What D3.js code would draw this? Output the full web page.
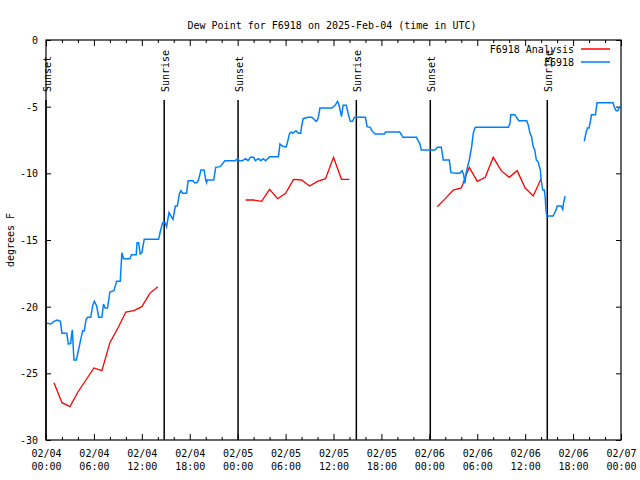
<!DOCTYPE html>
<html>
<head>
<meta charset="utf-8">
<script src="https://cdn.jsdelivr.net/npm/d3@7"></script>
<style>
  html, body { margin: 0; padding: 0; background: #fff; }
  svg { display: block; }
  text { font-family: "DejaVu Sans Mono", "Liberation Mono", monospace; font-size: 10px; fill: #000; }
</style>
</head>
<body>
<svg id="chart" width="640" height="480"></svg>
<script>
// ---------------- DATA ----------------
const titleText = "Dew Point for F6918 on 2025-Feb-04 (time in UTC)";
const yLabelText = "degrees F";
const startUTC = Date.UTC(2025, 1, 4, 0, 0);   // 2025-02-04 00:00 UTC
const endUTC = Date.UTC(2025, 1, 7, 0, 0);     // 2025-02-07 00:00 UTC

const yTicks = [0, -5, -10, -15, -20, -25, -30];
const xTickHours = [0, 6, 12, 18, 24, 30, 36, 42, 48, 54, 60, 66, 72];
const xTickLabels = [
  ["02/04", "00:00"], ["02/04", "06:00"], ["02/04", "12:00"], ["02/04", "18:00"],
  ["02/05", "00:00"], ["02/05", "06:00"], ["02/05", "12:00"], ["02/05", "18:00"],
  ["02/06", "00:00"], ["02/06", "06:00"], ["02/06", "12:00"], ["02/06", "18:00"],
  ["02/07", "00:00"]
];
const xMinorStepHours = 2;

// sun events (hours after 2025-02-04 00:00 UTC)
const sunsetHours = [0.0, 24.05, 48.12];
const sunriseHours = [14.8, 38.86, 62.77];

// F6918 Analysis (red) - hours after start, value degF; null = gap
const analysisHours = [1,2,3,4,5,6,7,8,9,10,11,12,13,14,
  null,
  25,26,27,28,29,30,31,32,33,34,35,36,37,38,
  null,
  49,50,51,52,53,54,55,56,57,58,59,60,61,62];
const analysisValues = [-25.7,-27.2,-27.5,-26.4,-25.5,-24.6,-24.8,-22.7,-21.6,-20.4,-20.3,-20.0,-19.0,-18.5,
  null,
  -12.0,-12.0,-12.1,-11.2,-11.9,-11.5,-10.45,-10.5,-10.95,-10.6,-10.4,-8.8,-10.45,-10.45,
  null,
  -12.5,-11.9,-11.25,-11.1,-9.55,-10.6,-10.3,-8.8,-9.8,-10.3,-9.8,-11.1,-11.7,-10.4];

// F6918 station observations (blue)
const stationHours = [
  0.1,0.6,1.0,1.4,1.8,2.0,2.6,2.8,3.1,3.2,3.3,3.5,3.8,4.3,4.6,4.8,5.0,5.2,5.6,5.85,
  6.05,6.35,6.6,7.0,7.2,7.4,7.7,8.0,8.5,8.85,9.3,9.5,9.7,10.5,10.7,11.3,11.4,11.6,11.8,12.0,
  12.3,14.1,14.3,14.6,14.9,15.1,15.4,15.9,16.2,16.45,16.7,16.9,17.1,17.6,17.8,18.4,18.6,18.9,19.1,19.4,
  19.8,20.0,20.1,20.2,21.0,21.25,21.8,22.4,23.7,24.0,24.2,24.6,25.0,25.3,25.6,26.0,26.2,26.6,26.9,27.2,
  27.5,28.0,29.1,29.3,29.6,29.9,30.1,30.5,30.7,30.9,31.3,31.6,31.9,32.0,32.2,32.8,33.3,33.5,33.8,33.9,
  34.1,34.3,35.8,36.2,36.5,36.7,37.0,37.2,37.6,37.9,38.1,38.4,38.6,40.0,40.2,40.6,40.8,41.2,42.4,42.5,
  44.3,44.7,46.4,46.6,46.8,47.0,48.7,49.0,49.5,49.75,50.5,50.7,51.4,51.8,52.1,52.3,52.45,52.6,52.75,53.0,
  53.3,53.5,53.7,53.8,57.9,58.1,58.2,58.7,59.2,60.2,60.4,60.6,60.8,61.0,61.2,61.4,61.6,61.9,62.0,62.2,
  62.4,62.5,62.6,62.7,63.5,63.9,64.0,64.5,64.7,64.8,65.0,
  null,
  67.4,67.6,67.8,68.0,68.2,68.3,68.8,69.0,71.0,71.2,71.4,71.6,71.8,72.0
];
const stationValues = [
  -21.25,-21.3,-21.1,-21.0,-21.1,-22.0,-22.0,-22.8,-22.75,-22.1,-21.75,-24.0,-24.0,-22.6,-21.8,-21.8,-21.0,-20.8,-20.8,-19.9,
  -19.6,-19.95,-20.8,-20.8,-19.8,-20.1,-20.1,-18.9,-18.8,-18.1,-18.1,-15.95,-16.4,-16.4,-16.1,-16.1,-15.2,-15.2,-16.05,-15.95,
  -14.95,-14.95,-14.4,-13.7,-13.7,-14.0,-12.95,-13.45,-12.45,-12.45,-11.55,-11.3,-11.5,-11.5,-10.55,-10.55,-10.7,-10.7,-10.5,-9.75,
  -9.75,-10.5,-10.7,-10.5,-10.5,-9.55,-9.5,-9.05,-9.05,-8.9,-9.05,-9.05,-8.9,-9.05,-8.8,-8.8,-9.05,-8.9,-9.05,-8.9,
  -9.05,-8.75,-8.75,-7.8,-7.95,-8.0,-8.0,-7.0,-6.9,-7.0,-6.8,-7.0,-7.0,-6.5,-5.9,-5.8,-5.8,-5.9,-6.1,-6.1,
  -5.8,-5.1,-5.1,-4.9,-4.6,-4.9,-5.75,-4.9,-4.9,-5.65,-6.1,-6.1,-5.8,-5.8,-6.5,-6.55,-6.8,-7.05,-7.05,-6.9,
  -6.9,-7.3,-7.3,-7.55,-7.75,-8.25,-8.25,-8.05,-8.05,-9.0,-9.0,-9.95,-10.0,-10.0,-9.8,-10.1,-10.75,-10.0,-9.6,-9.0,
  -8.0,-7.0,-6.6,-6.55,-6.55,-6.25,-5.6,-5.6,-6.05,-6.05,-6.4,-7.0,-7.25,-8.0,-8.25,-9.0,-9.1,-9.75,-10.5,-11.25,
  -11.25,-11.75,-12.7,-13.2,-13.2,-12.7,-12.45,-12.45,-12.7,-12.25,-11.7,
  null,
  -7.6,-7.0,-6.6,-6.6,-6.0,-5.6,-5.6,-4.7,-4.7,-5.1,-5.3,-5.3,-5.05,-5.0
];

const seriesNames = ["F6918 Analysis", "F6918"];
const seriesColors = ["#ff0000", "#0080ff"];

// ---------------- CHART ----------------
const HOUR = 3600 * 1000;
const toDate = h => new Date(startUTC + h * HOUR);

const svg = d3.select("#chart");
const margin = {left: 46, right: 19, top: 40, bottom: 40};
const W = 640, H = 480;

const x = d3.scaleUtc()
  .domain([new Date(startUTC), new Date(endUTC)])
  .range([margin.left, W - margin.right]);
const y = d3.scaleLinear()
  .domain([-30, 0])
  .range([H - margin.bottom, margin.top]);

const x0 = x.range()[0], x1 = x.range()[1];
const y0 = y.range()[1], y1 = y.range()[0];

// title
svg.append("text")
  .attr("x", 332).attr("y", 29)
  .attr("text-anchor", "middle")
  .text(titleText);

// y label
svg.append("text")
  .attr("transform", `translate(10,${(y0 + y1) / 2}) rotate(-90)`)
  .attr("text-anchor", "middle")
  .attr("dominant-baseline", "central")
  .text(yLabelText);

// left axis (labels)
const yAxis = d3.axisLeft(y).tickValues(yTicks).tickSizeInner(-5).tickSizeOuter(0).tickPadding(8)
  .tickFormat(d => String(d));
const gy = svg.append("g").attr("transform", `translate(${x0},0)`).call(yAxis);
gy.select(".domain").remove();
gy.selectAll("text").style("font-family", null).style("font-size", null).attr("dy", "0.35em");
gy.attr("font-family", null).attr("font-size", null);

// right axis ticks
const gyr = svg.append("g").attr("transform", `translate(${x1},0)`)
  .call(d3.axisRight(y).tickValues(yTicks).tickSizeInner(-5).tickSizeOuter(0).tickFormat(""));
gyr.select(".domain").remove();

// bottom axis major
const xAxis = d3.axisBottom(x).tickValues(xTickHours.map(toDate)).tickSizeInner(-6).tickSizeOuter(0).tickPadding(10)
  .tickFormat("");
const gx = svg.append("g").attr("transform", `translate(0,${y1})`).call(xAxis);
gx.select(".domain").remove();
gx.attr("font-family", null).attr("font-size", null);
gx.selectAll(".tick").each(function(d, i) {
  const t = d3.select(this).select("text");
  t.attr("dy", null);
  t.append("tspan").attr("x", 0).attr("dy", "0.71em").text(xTickLabels[i][0]);
  t.append("tspan").attr("x", 0).attr("dy", "1.27em").text(xTickLabels[i][1]);
});

// minor ticks (bottom and top)
const minorHours = d3.range(0, 72 + 0.001, xMinorStepHours).filter(h => h % 6 !== 0);
const gxm = svg.append("g").attr("transform", `translate(0,${y1})`)
  .call(d3.axisBottom(x).tickValues(minorHours.map(toDate)).tickSizeInner(-3).tickSizeOuter(0).tickFormat(""));
gxm.select(".domain").remove();
const gxt = svg.append("g").attr("transform", `translate(0,${y0})`)
  .call(d3.axisTop(x).tickValues(xTickHours.map(toDate)).tickSizeInner(-6).tickSizeOuter(0).tickFormat(""));
gxt.select(".domain").remove();
const gxtm = svg.append("g").attr("transform", `translate(0,${y0})`)
  .call(d3.axisTop(x).tickValues(minorHours.map(toDate)).tickSizeInner(-3).tickSizeOuter(0).tickFormat(""));
gxtm.select(".domain").remove();

// frame
svg.append("rect")
  .attr("x", x0).attr("y", y0).attr("width", x1 - x0).attr("height", y1 - y0)
  .attr("fill", "none").attr("stroke", "#000").attr("stroke-width", 1.2);

// sun lines
const sunEvents = sunsetHours.map(h => ({h, label: "Sunset"}))
  .concat(sunriseHours.map(h => ({h, label: "Sunrise"})));
sunEvents.forEach(ev => {
  const xp = x(toDate(ev.h));
  svg.append("line")
    .attr("x1", xp).attr("x2", xp).attr("y1", 100).attr("y2", y1)
    .attr("stroke", "#000").attr("stroke-width", 1.5);
  svg.append("text")
    .attr("transform", `translate(${xp + 1},92) rotate(-90)`)
    .attr("text-anchor", "start")
    .attr("dominant-baseline", "central")
    .text(ev.label);
});

// lines
function makeSeries(hours, values) {
  return hours.map((h, i) => (h === null || values[i] === null) ? null : {t: toDate(h), v: values[i]});
}
const line = d3.line()
  .defined(d => d !== null)
  .x(d => x(d.t))
  .y(d => y(d.v));

svg.append("clipPath").attr("id", "plotclip").append("rect")
  .attr("x", x0).attr("y", y0).attr("width", x1 - x0).attr("height", y1 - y0);

svg.append("path")
  .datum(makeSeries(analysisHours, analysisValues))
  .attr("clip-path", "url(#plotclip)")
  .attr("fill", "none").attr("stroke", seriesColors[0]).attr("stroke-width", 1.3)
  .attr("d", line);

svg.append("path")
  .datum(makeSeries(stationHours, stationValues))
  .attr("clip-path", "url(#plotclip)")
  .attr("fill", "none").attr("stroke", seriesColors[1]).attr("stroke-width", 1.5)
  .attr("d", line);

// legend
const legendY = [49, 62];
seriesNames.forEach((name, i) => {
  svg.append("text")
    .attr("x", 574).attr("y", legendY[i])
    .attr("text-anchor", "end")
    .attr("dominant-baseline", "central")
    .text(name);
  svg.append("line")
    .attr("x1", 581).attr("x2", 610).attr("y1", legendY[i]).attr("y2", legendY[i])
    .attr("stroke", seriesColors[i]).attr("stroke-width", 1.5);
});
</script>
</body>
</html>
